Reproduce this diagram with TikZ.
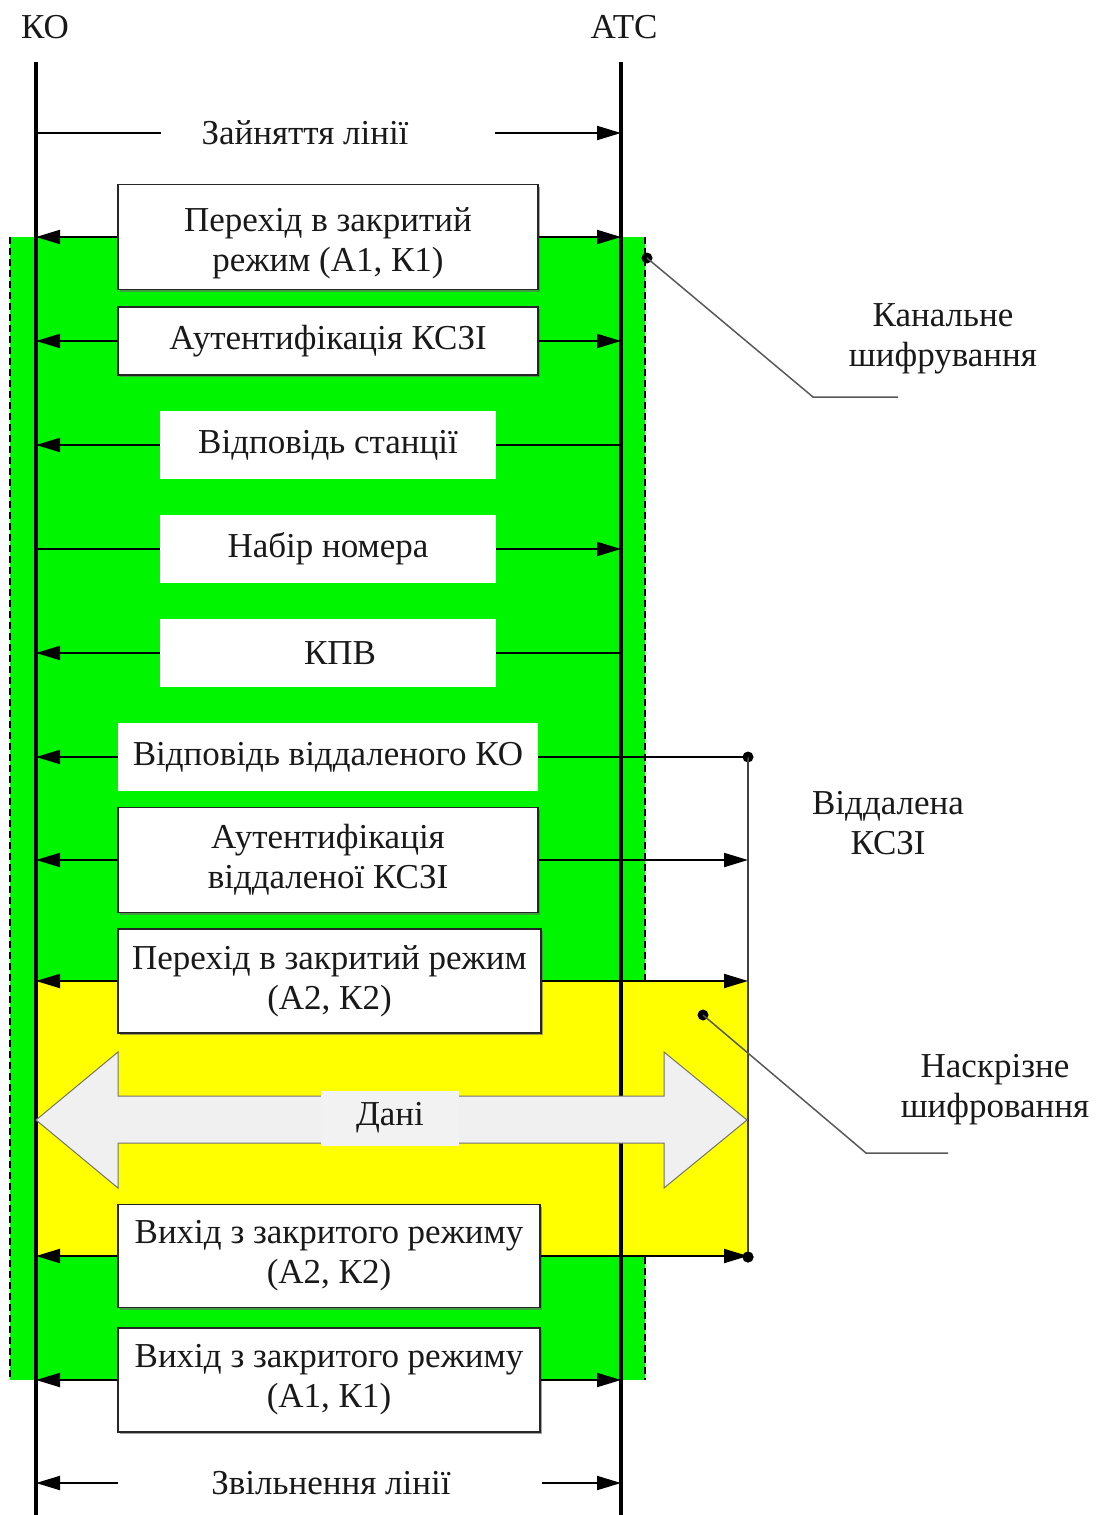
\documentclass[tikz,border=0pt]{standalone}
\usepackage{fontspec}
\setmainfont{Liberation Serif}
\newfontfamily\diagfont{Liberation Serif}
\usetikzlibrary{arrows.meta,shadows}
\definecolor{chgreen}{RGB}{0,245,0}
\definecolor{chyellow}{RGB}{255,255,0}
\definecolor{txt}{RGB}{25,25,25}
\begin{document}
\begin{tikzpicture}[x=1pt,y=-1pt,
  every node/.style={font=\diagfont\fontsize{35}{40}\selectfont, text=txt, align=center},
  life/.style={line width=4pt,black},
  msg/.style={line width=2pt,black},
  tip/.style={-{Triangle[length=24pt,width=14pt]}},
  boxb/.style={draw=black!85,line width=1.5pt,fill=white,inner sep=0pt,
    drop shadow={shadow xshift=2pt,shadow yshift=-2pt,fill=black!60,opacity=0.6}},
  boxn/.style={fill=white,draw=none,inner sep=0pt},
  dotc/.style={circle,fill=black,draw=none,inner sep=0pt,minimum size=11pt},
  leader/.style={draw=black!65,line width=1.5pt},
  zoneedge/.style={black,line width=1.5pt,dash pattern=on 7pt off 4pt},
  plain/.style={inner sep=0pt}]
\useasboundingbox (0,0) rectangle (1109,1515);

% zones
\fill[chgreen] (10,237) rectangle (645,1380);
\draw[zoneedge] (10,237) -- (10,1380);
\draw[zoneedge] (645,237) -- (645,982);
\draw[zoneedge] (645,1257) -- (645,1380);
\fill[chyellow] (36,982) rectangle (748,1257);

% lifelines
\node[plain] (ko) at (45,27) {КО};
\node[plain] (atc) at (624,27) {АТС};
\coordinate (koT) at (36,62);
\coordinate (koB) at (36,1515);
\coordinate (atcT) at (621,62);
\coordinate (atcB) at (621,1515);
\draw[life] (koT) -- (koB);
\draw[life] (atcT) -- (atcB);

% remote line
\node[dotc] (r1) at (748,757) {};
\node[dotc] (r2) at (748,1257) {};
\draw[line width=2.5pt,black!75] (r1.center) -- (r2.center);

% 1 Zaynyattya linii
\node[plain] (z) at (305,133) {Зайняття лінії};
\coordinate (z1) at (161,133);
\coordinate (z2) at (495,133);
\draw[msg] (z1) -- (z1 -| koT);
\draw[msg,tip] (z2) -- (z2 -| atcT);

% 2
\node[boxb,minimum width=420pt,minimum height=105pt] (m2) at (328,237) {};
\node[plain] (m2t) at (328,243) {Перехід в закритий\\режим (А1, К1)};
\draw[msg,tip] (m2.west) -- (m2.west -| koT);
\draw[msg,tip] (m2.east) -- (m2.east -| atcT);

% 3
\node[boxb,minimum width=420pt,minimum height=68pt] (m3) at (328,341) {Аутентифікація КСЗІ};
\draw[msg,tip] (m3.west) -- (m3.west -| koT);
\draw[msg,tip] (m3.east) -- (m3.east -| atcT);

% 4
\node[boxn,minimum width=336pt,minimum height=68pt] (m4) at (328,445) {Відповідь станції};
\draw[msg,tip] (m4.west) -- (m4.west -| koT);
\draw[msg] (m4.east) -- (m4.east -| atcT);

% 5
\node[boxn,minimum width=336pt,minimum height=68pt] (m5) at (328,549) {Набір номера};
\draw[msg] (m5.west) -- (m5.west -| koT);
\draw[msg,tip] (m5.east) -- (m5.east -| atcT);

% 6
\node[boxn,minimum width=336pt,minimum height=68pt] (m6) at (328,653) {\hspace*{24pt}КПВ};
\draw[msg,tip] (m6.west) -- (m6.west -| koT);
\draw[msg] (m6.east) -- (m6.east -| atcT);

% 7
\node[boxn,minimum width=420pt,minimum height=68pt] (m7) at (328,757) {Відповідь віддаленого КО};
\draw[msg,tip] (m7.west) -- (m7.west -| koT);
\draw[msg] (m7.east) -- (r1.center);

% 8
\node[boxb,minimum width=420pt,minimum height=105pt] (m8) at (328,860) {Аутентифікація\\віддаленої КСЗІ};
\draw[msg,tip] (m8.west) -- (m8.west -| koT);
\draw[msg,tip] (m8.east) -- (m8.east -| r1);

% 9
\node[boxb,minimum width=423pt,minimum height=104pt] (m9) at (329.5,981) {Перехід в закритий режим\\(А2, К2)};
\draw[msg,tip] (m9.west) -- (m9.west -| koT);
\draw[msg,tip] (m9.east) -- (m9.east -| r1);

% data arrow
\draw[fill=black!6,draw=black!55,line width=1pt]
  (36,1120) -- (118,1052) -- (118,1096) -- (664,1096) -- (664,1052) -- (747,1120)
  -- (664,1188) -- (664,1143) -- (118,1143) -- (118,1188) -- cycle;
\node[fill=black!5,inner sep=0pt,minimum width=138pt,minimum height=55pt] (d) at (390,1118) {Дані};

% 11
\node[boxb,minimum width=422pt,minimum height=103pt] (m11) at (329,1256) {Вихід з закритого режиму\\(А2, К2)};
\draw[msg,tip] (m11.west) -- (m11.west -| koT);
\draw[msg,tip] (m11.east) -- (m11.east -| r2);
\node[dotc] at (r2) {};

% 12
\node[boxb,minimum width=422pt,minimum height=104pt] (m12) at (329,1380) {Вихід з закритого режиму\\(А1, К1)};
\draw[msg,tip] (m12.west) -- (m12.west -| koT);
\draw[msg,tip] (m12.east) -- (m12.east -| atcT);

% 13
\node[plain] (zv) at (331,1483) {Звільнення лінії};
\coordinate (v1) at (118,1483);
\coordinate (v2) at (542,1483);
\draw[msg,tip] (v1) -- (v1 -| koT);
\draw[msg,tip] (v2) -- (v2 -| atcT);

% side labels
\node[dotc] (c1) at (647,258) {};
\coordinate (c1b) at (813,397);
\coordinate (c1e) at (898,397);
\draw[leader] (c1.center) -- (c1b) -- (c1e);
\node[plain] (kan) at (943,339) {Канальне\\шифрування};

\node[plain] (vid) at (888,823) {Віддалена\\КСЗІ};

\node[dotc] (c2) at (703,1015) {};
\coordinate (c2b) at (866,1153);
\coordinate (c2e) at (948,1153);
\draw[leader] (c2.center) -- (c2b) -- (c2e);
\node[plain] (nas) at (995,1090) {Наскрізне\\шифровання};
\end{tikzpicture}
\end{document}
